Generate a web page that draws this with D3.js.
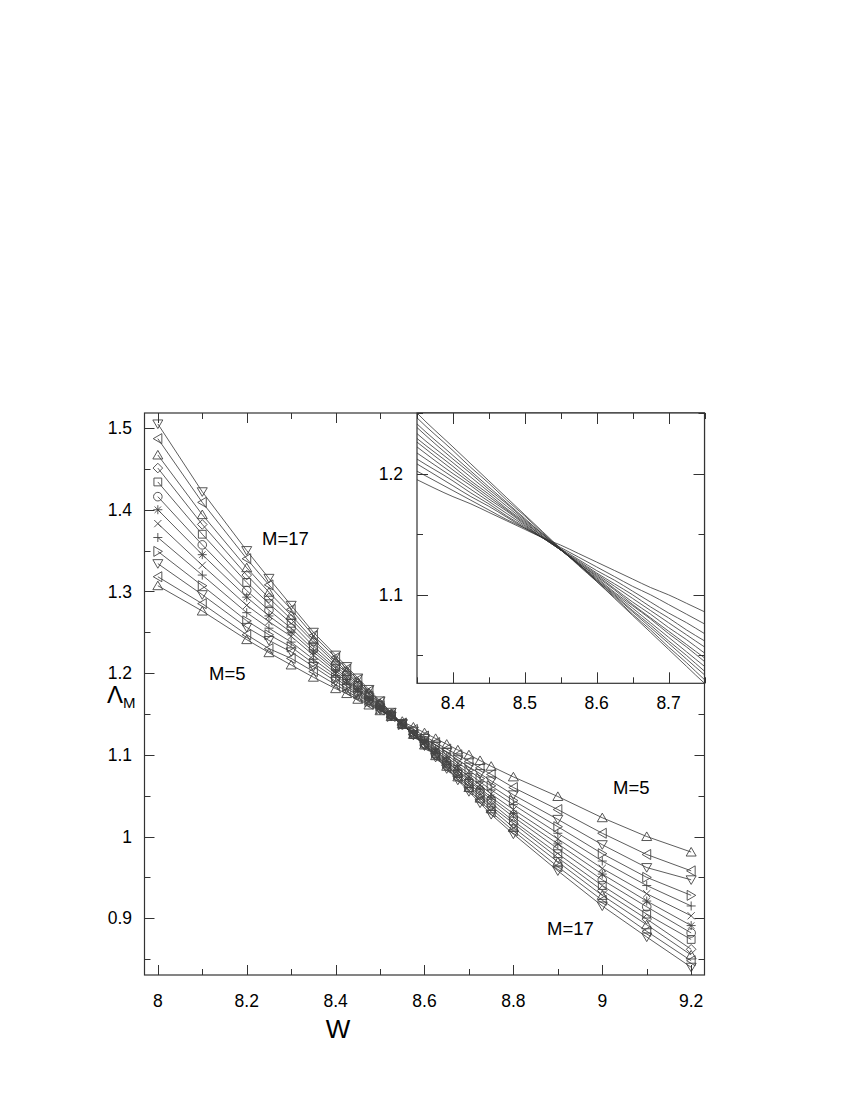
<!DOCTYPE html>
<html>
<head>
<meta charset="utf-8">
<script src="https://cdn.jsdelivr.net/npm/d3@7"></script>
<style>
  body { margin: 0; background: #fff; }
  text { font-family: "Liberation Sans", Arial, Helvetica, sans-serif; fill: #000; }
</style>
</head>
<body>
<svg id="svg" width="850" height="1100"></svg>
<script>

// disorder values W (x axis)
var wValues = [8.0, 8.1, 8.2, 8.25, 8.3, 8.35, 8.4, 8.425, 8.45, 8.475, 8.5, 8.525, 8.55,
	8.575, 8.6, 8.625, 8.65, 8.675, 8.7, 8.725, 8.75, 8.8, 8.9, 9.0, 9.1, 9.2];

// strip widths M
var mValues = [5, 6, 7, 8, 9, 10, 11, 12, 13, 14, 15, 16, 17];

// Lambda_M for every M, one value per W above
var lam5  = [1.307,1.276,1.241,1.225,1.210,1.195,1.181,1.175,1.168,1.161,1.154,1.147,1.141,1.134,1.127,1.120,1.113,1.106,1.100,1.093,1.086,1.073,1.049,1.023,1.000,0.981];
var lam6  = [1.318,1.285,1.247,1.230,1.218,1.202,1.186,1.178,1.170,1.162,1.155,1.147,1.139,1.131,1.123,1.115,1.107,1.100,1.092,1.084,1.076,1.060,1.033,1.004,0.978,0.958];
var lam7  = [1.334,1.296,1.256,1.240,1.226,1.208,1.190,1.181,1.173,1.164,1.155,1.147,1.138,1.129,1.120,1.112,1.103,1.094,1.085,1.077,1.068,1.051,1.021,0.990,0.962,0.947];
var lam8  = [1.349,1.307,1.264,1.247,1.232,1.212,1.194,1.184,1.175,1.165,1.156,1.147,1.137,1.128,1.118,1.109,1.100,1.090,1.081,1.071,1.062,1.044,1.012,0.979,0.950,0.928];
var lam9  = [1.366,1.320,1.274,1.255,1.238,1.217,1.197,1.187,1.177,1.167,1.157,1.147,1.137,1.127,1.117,1.107,1.097,1.087,1.077,1.067,1.057,1.039,1.004,0.970,0.940,0.915];
var lam10 = [1.383,1.332,1.283,1.263,1.245,1.222,1.200,1.190,1.179,1.169,1.158,1.147,1.137,1.126,1.116,1.105,1.094,1.084,1.073,1.063,1.052,1.033,0.997,0.961,0.930,0.903];
var lam11 = [1.400,1.345,1.293,1.270,1.250,1.226,1.203,1.192,1.181,1.170,1.159,1.148,1.137,1.126,1.115,1.104,1.092,1.081,1.070,1.059,1.048,1.028,0.991,0.954,0.921,0.891];
var lam12 = [1.416,1.357,1.301,1.277,1.255,1.229,1.206,1.194,1.183,1.171,1.160,1.148,1.137,1.125,1.114,1.102,1.091,1.080,1.068,1.057,1.045,1.024,0.985,0.947,0.914,0.882];
var lam13 = [1.434,1.370,1.311,1.285,1.261,1.233,1.209,1.197,1.185,1.173,1.161,1.149,1.137,1.125,1.113,1.101,1.089,1.077,1.065,1.053,1.041,1.019,0.979,0.940,0.905,0.874];
var lam14 = [1.451,1.382,1.320,1.292,1.266,1.238,1.212,1.200,1.187,1.175,1.162,1.150,1.137,1.125,1.112,1.100,1.087,1.075,1.062,1.050,1.037,1.016,0.974,0.934,0.899,0.862];
var lam15 = [1.467,1.394,1.329,1.299,1.271,1.241,1.215,1.202,1.189,1.176,1.163,1.150,1.138,1.125,1.112,1.099,1.086,1.073,1.060,1.047,1.034,1.011,0.969,0.928,0.892,0.855];
var lam16 = [1.487,1.409,1.340,1.308,1.278,1.246,1.219,1.205,1.192,1.178,1.165,1.151,1.138,1.125,1.111,1.098,1.084,1.071,1.057,1.044,1.030,1.007,0.963,0.922,0.884,0.848];
var lam17 = [1.505,1.422,1.350,1.316,1.283,1.250,1.222,1.208,1.194,1.180,1.166,1.152,1.138,1.124,1.111,1.097,1.083,1.069,1.055,1.041,1.027,1.003,0.958,0.915,0.877,0.840];

var lamSeries = [lam5, lam6, lam7, lam8, lam9, lam10, lam11, lam12, lam13, lam14, lam15, lam16, lam17];

// marker per M, same order as mValues
var symbols = ["triUp", "triLeft", "triDown", "triRight", "plus", "cross", "star",
	"circle", "square", "diamond", "triUp", "triLeft", "triDown"];

// tick values
var xMajor = [8, 8.2, 8.4, 8.6, 8.8, 9, 9.2];
var xMinor = [8.1, 8.3, 8.5, 8.7, 8.9, 9.1];
var yMajor = [0.9, 1.0, 1.1, 1.2, 1.3, 1.4, 1.5];
var yMinor = [0.85, 0.95, 1.05, 1.15, 1.25, 1.35, 1.45];
var insetXMajor = [8.4, 8.5, 8.6, 8.7];
var insetXMinor = [8.35, 8.45, 8.55, 8.65, 8.75];
var insetYMajor = [1.1, 1.2];
var insetYMinor = [1.05, 1.15, 1.25];

var svg = d3.select("svg");
var fmt = d3.format("~g");

var series = mValues.map(function (m, i) {
	return {
		m: m,
		sym: symbols[i],
		pts: wValues.map(function (w, j) { return { w: w, v: lamSeries[i][j] }; })
	};
});

// main frame
var box = { left: 144.5, right: 704.5, top: 413, bottom: 975 };
var x = d3.scaleLinear().domain([7.97, 9.23]).range([box.left, box.right]);
var y = d3.scaleLinear().domain([0.8305, 1.5184]).range([box.bottom, box.top]);

// inset frame
var ibox = { left: 417, right: 704.5, top: 413, bottom: 683.3 };
var ix = d3.scaleLinear().domain([8.35, 8.75]).range([ibox.left, ibox.right]);
var iy = d3.scaleLinear().domain([1.027, 1.25]).range([ibox.bottom, ibox.top]);

function symbolPath(s) {
	switch (s) {
		case "triUp": return "M0,-4.6L5,4L-5,4Z";
		case "triDown": return "M0,4.6L5,-4L-5,-4Z";
		case "triLeft": return "M-4.6,0L4,-5L4,5Z";
		case "triRight": return "M4.6,0L-4,-5L-4,5Z";
		case "plus": return "M-4.5,0H4.5M0,-4.5V4.5";
		case "cross": return "M-3.6,-3.6L3.6,3.6M-3.6,3.6L3.6,-3.6";
		case "star": return "M-4.5,0H4.5M0,-4.5V4.5M-3.2,-3.2L3.2,3.2M-3.2,3.2L3.2,-3.2";
		case "circle": return "M4.3,0A4.3,4.3 0 1,1 -4.3,0A4.3,4.3 0 1,1 4.3,0Z";
		case "square": return "M-3.9,-3.9H3.9V3.9H-3.9Z";
		case "diamond": return "M0,-4.8L4.8,0L0,4.8L-4.8,0Z";
	}
}

function drawTicks(g, sx, sy, b, xMaj, xMin, yMaj, yMin, majLen, minLen) {
	var t = g.append("g").attr("stroke", "#333").attr("stroke-width", 1);
	xMaj.concat(xMin).forEach(function (v) {
		var len = xMaj.indexOf(v) >= 0 ? majLen : minLen;
		var px = Math.round(sx(v)) + 0.5;
		t.append("line").attr("x1", px).attr("x2", px).attr("y1", b.bottom).attr("y2", b.bottom - len);
		t.append("line").attr("x1", px).attr("x2", px).attr("y1", b.top).attr("y2", b.top + len);
	});
	yMaj.concat(yMin).forEach(function (v) {
		var len = yMaj.indexOf(v) >= 0 ? majLen : minLen;
		var py = Math.round(sy(v)) + 0.5;
		t.append("line").attr("y1", py).attr("y2", py).attr("x1", b.left).attr("x2", b.left + len);
		t.append("line").attr("y1", py).attr("y2", py).attr("x1", b.right).attr("x2", b.right - len);
	});
}

// ---- main plot ----
var main = svg.append("g");

var line = d3.line()
	.x(function (d) { return x(d.w); })
	.y(function (d) { return y(d.v); });

main.append("g")
	.attr("fill", "none")
	.attr("stroke", "#333")
	.attr("stroke-width", 0.8)
	.selectAll("path")
	.data(series)
	.enter().append("path")
	.attr("d", function (d) { return line(d.pts); });

var marks = main.append("g")
	.attr("fill", "none")
	.attr("stroke", "#444")
	.attr("stroke-width", 0.9)
	.selectAll("g")
	.data(series)
	.enter().append("g");

marks.selectAll("path")
	.data(function (d) { return d.pts.map(function (p) { return { w: p.w, v: p.v, sym: d.sym }; }); })
	.enter().append("path")
	.attr("transform", function (d) { return "translate(" + x(d.w) + "," + y(d.v) + ")"; })
	.attr("d", function (d) { return symbolPath(d.sym); });

drawTicks(main, x, y, box, xMajor, xMinor, yMajor, yMinor, 10, 6);

main.append("rect")
	.attr("x", box.left).attr("y", box.top)
	.attr("width", box.right - box.left).attr("height", box.bottom - box.top)
	.attr("fill", "none").attr("stroke", "#333").attr("stroke-width", 1.2);

main.append("g").selectAll("text")
	.data(xMajor)
	.enter().append("text")
	.attr("x", function (d) { return x(d); })
	.attr("y", 1007)
	.attr("text-anchor", "middle")
	.style("font-size", "17.5px")
	.text(function (d) { return fmt(d); });

main.append("g").selectAll("text")
	.data(yMajor)
	.enter().append("text")
	.attr("x", 132)
	.attr("y", function (d) { return y(d); })
	.attr("dy", "0.35em")
	.attr("text-anchor", "end")
	.style("font-size", "17.5px")
	.text(function (d) { return fmt(d); });

main.append("text")
	.attr("x", 338).attr("y", 1038)
	.attr("text-anchor", "middle")
	.style("font-size", "26px")
	.text("W");

var ylab = main.append("text")
	.attr("x", 107).attr("y", 703)
	.style("font-size", "24px");
ylab.append("tspan").text("Λ");
ylab.append("tspan").attr("dy", 5).style("font-size", "15px").text("M");

var notes = [
	{ t: "M=17", x: 262, y: 545 },
	{ t: "M=5", x: 209, y: 680 },
	{ t: "M=5", x: 613, y: 794 },
	{ t: "M=17", x: 547, y: 935 }
];
main.append("g").selectAll("text")
	.data(notes)
	.enter().append("text")
	.attr("x", function (d) { return d.x; })
	.attr("y", function (d) { return d.y; })
	.style("font-size", "18.5px")
	.text(function (d) { return d.t; });

// ---- inset ----
var inset = svg.append("g");

inset.append("rect")
	.attr("x", ibox.left).attr("y", ibox.top)
	.attr("width", ibox.right - ibox.left).attr("height", ibox.bottom - ibox.top)
	.attr("fill", "#fff");

svg.append("clipPath").attr("id", "insetClip")
	.append("rect")
	.attr("x", ibox.left).attr("y", ibox.top)
	.attr("width", ibox.right - ibox.left).attr("height", ibox.bottom - ibox.top);

var iline = d3.line()
	.curve(d3.curveMonotoneX)
	.x(function (d) { return ix(d.w); })
	.y(function (d) { return iy(d.v); });

inset.append("g")
	.attr("clip-path", "url(#insetClip)")
	.attr("fill", "none")
	.attr("stroke", "#333")
	.attr("stroke-width", 0.8)
	.selectAll("path")
	.data(series)
	.enter().append("path")
	.attr("d", function (d) {
		return iline(d.pts.filter(function (p) { return p.w >= 8.3 && p.w <= 8.8; }));
	});

drawTicks(inset, ix, iy, ibox, insetXMajor, insetXMinor, insetYMajor, insetYMinor, 11, 6);

inset.append("rect")
	.attr("x", ibox.left).attr("y", ibox.top)
	.attr("width", ibox.right - ibox.left).attr("height", ibox.bottom - ibox.top)
	.attr("fill", "none").attr("stroke", "#333").attr("stroke-width", 1.2);

inset.append("g").selectAll("text")
	.data(insetXMajor)
	.enter().append("text")
	.attr("x", function (d) { return ix(d); })
	.attr("y", 709)
	.attr("text-anchor", "middle")
	.style("font-size", "17.5px")
	.text(function (d) { return fmt(d); });

inset.append("g").selectAll("text")
	.data(insetYMajor)
	.enter().append("text")
	.attr("x", 403)
	.attr("y", function (d) { return iy(d); })
	.attr("dy", "0.35em")
	.attr("text-anchor", "end")
	.style("font-size", "17.5px")
	.text(function (d) { return fmt(d); });

</script>
</body>
</html>
